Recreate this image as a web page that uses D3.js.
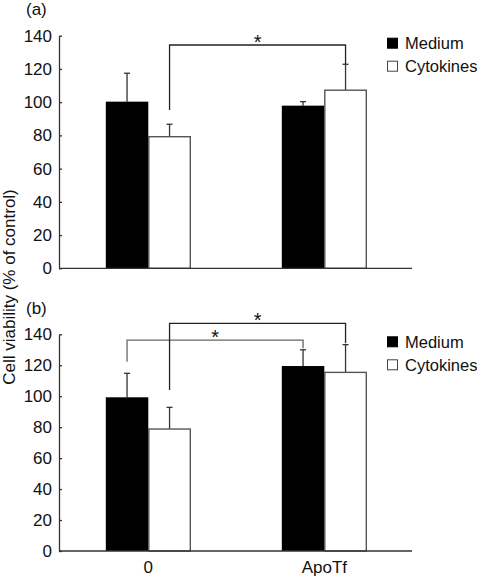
<!DOCTYPE html>
<html><head><meta charset="utf-8">
<script src="https://cdn.jsdelivr.net/npm/d3@7"></script>
<style>body{margin:0;background:#fff}svg{display:block}text{font-family:"Liberation Sans",Arial,sans-serif;fill:#111}</style>
</head><body>
<script>
const groups = ["0", "ApoTf"];
const seriesNames = ["Medium", "Cytokines"];
const yTicks = [0, 20, 40, 60, 80, 100, 120, 140];
// panel (a)
const aMedium = [100.3, 97.9];
const aMediumErr = [17.1, 2.4];
const aCytokines = [79.2, 107.2];
const aCytokinesErr = [7.5, 15.6];
// panel (b)
const bMedium = [99.3, 119.5];
const bMediumErr = [15.5, 10.5];
const bCytokines = [78.8, 115.4];
const bCytokinesErr = [14.0, 17.9];
// significance brackets: [fromGroup, fromSeries, toGroup, toSeries, startVal, levelVal, endVal]
const aBrackets = [["0", "Cytokines", "ApoTf", "Cytokines", 95.3, 134.4, 123.0]];
const bBrackets = [["0", "Medium", "ApoTf", "Medium", 122.3, 136.3, 131.0],
                   ["0", "Cytokines", "ApoTf", "Cytokines", 104.0, 147.1, 134.2]];

const W = 477, H = 577;
const FONT = "Liberation Sans, Arial, sans-serif";
const svg = d3.select("body").append("svg").attr("width", W).attr("height", H);
const x0 = d3.scaleBand().domain(groups).range([60.3, 412.3]).padding(0);
const x1 = d3.scaleBand().domain(seriesNames).range([-42.5, 42.5]).padding(0);
const axisColor = "#333";

function panel(label, top, bottom, med, medErr, cyt, cytErr, brackets, bracketColors, showX) {
  const y = d3.scaleLinear().domain([0, 140]).range([bottom, top]);
  const g = svg.append("g");
  const data = groups.map((gname, i) => ({g: gname, vals: [
    {s: "Medium", v: med[i], e: medErr[i]}, {s: "Cytokines", v: cyt[i], e: cytErr[i]}]}));
  const gg = g.selectAll(".grp").data(data).enter().append("g")
    .attr("transform", d => `translate(${x0(d.g) + x0.bandwidth() / 2},0)`);
  // error bars
  const eb = gg.selectAll(".eb").data(d => d.vals).enter().append("g");
  const cx = d => x1(d.s) + x1.bandwidth() / 2;
  eb.append("line").attr("x1", cx).attr("x2", cx)
    .attr("y1", d => y(d.v)).attr("y2", d => y(d.v + d.e)).attr("stroke", "#333").attr("stroke-width", 1.3);
  eb.append("line").attr("x1", d => cx(d) - 3).attr("x2", d => cx(d) + 3)
    .attr("y1", d => y(d.v + d.e)).attr("y2", d => y(d.v + d.e)).attr("stroke", "#333").attr("stroke-width", 1.3);
  gg.selectAll("rect").data(d => d.vals).enter().append("rect")
    .attr("x", d => x1(d.s) + (d.s === "Cytokines" ? 0.5 : 0))
    .attr("width", d => x1.bandwidth() - (d.s === "Cytokines" ? 1 : 0))
    .attr("y", d => y(d.v)).attr("height", d => y(0) - y(d.v))
    .attr("fill", d => d.s === "Medium" ? "#000" : "#fff")
    .attr("stroke", d => d.s === "Medium" ? "none" : "#555").attr("stroke-width", 1.4);
  // axes
  const yAxis = d3.axisLeft(y).tickValues(yTicks).tickSizeInner(-3).tickSizeOuter(0).tickPadding(7);
  const ya = g.append("g").attr("transform", `translate(59,0)`).call(yAxis);
  ya.select(".domain").attr("stroke", axisColor).attr("stroke-width", 1.3);
  ya.selectAll(".tick line").attr("stroke", axisColor).attr("stroke-width", 1.3);
  ya.selectAll(".tick text").attr("font-size", 17).attr("font-family", FONT).attr("fill", "#111");
  const xAxis = d3.axisBottom(x0).tickSize(0).tickPadding(10);
  const xa = g.append("g").attr("transform", `translate(0,${bottom})`).call(xAxis);
  xa.select(".domain").attr("d", `M59,0H412`).attr("stroke", axisColor).attr("stroke-width", 1.3);
  xa.selectAll(".tick text").attr("font-size", 17).attr("font-family", FONT).attr("fill", "#111")
    .style("display", showX ? null : "none");
  // brackets
  brackets.forEach((b, i) => {
    const xa_ = x0(b[0]) + x0.bandwidth() / 2 + x1(b[1]) + x1.bandwidth() / 2;
    const xb_ = x0(b[2]) + x0.bandwidth() / 2 + x1(b[3]) + x1.bandwidth() / 2;
    const path = d3.path();
    path.moveTo(xa_, y(b[4])); path.lineTo(xa_, y(b[5])); path.lineTo(xb_, y(b[5])); path.lineTo(xb_, y(b[6]));
    g.append("path").attr("d", path.toString()).attr("fill", "none").attr("stroke", bracketColors[i]).attr("stroke-width", 1.3);
    g.append("text").attr("x", (xa_ + xb_) / 2).attr("y", y(b[5]) + 4).attr("text-anchor", "middle")
      .attr("font-size", 20).attr("fill", "#000").text("*");
  });
  // legend
  seriesNames.forEach((s, i) => {
    const ly = top + 2 + i * 23;
    g.append("rect").attr("x", 387.5).attr("y", ly + 0.5).attr("width", 10).attr("height", 10)
      .attr("fill", s === "Medium" ? "#000" : "#fff").attr("stroke", s === "Medium" ? "#000" : "#444").attr("stroke-width", 1);
    g.append("text").attr("x", 405).attr("y", ly + 11.5).attr("font-size", 16.5).text(s);
  });
  // panel label
  g.append("text").attr("x", 26).attr("y", top - 20.5).attr("font-size", 17).text(label);
}

panel("(a)", 35.7, 268.3, aMedium, aMediumErr, aCytokines, aCytokinesErr, aBrackets, ["#222"], false);
panel("(b)", 334.3, 551, bMedium, bMediumErr, bCytokines, bCytokinesErr, bBrackets, ["#666", "#222"], true);

svg.append("text").attr("transform", "translate(15,287) rotate(-90)").attr("text-anchor", "middle")
  .attr("font-size", 17).text("Cell viability (% of control)");
</script>
</body></html>
